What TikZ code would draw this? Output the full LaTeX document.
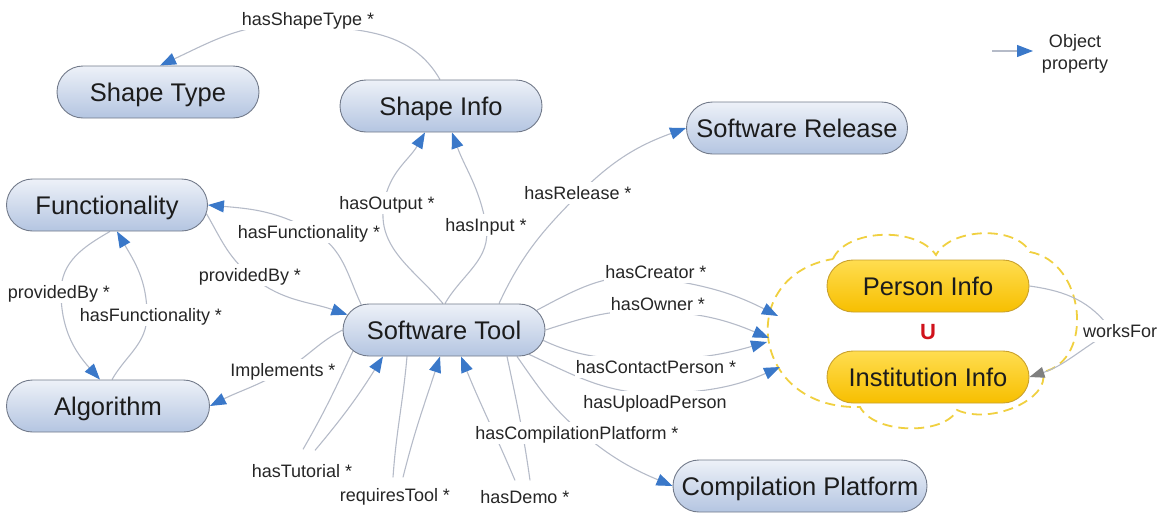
\documentclass[tikz,border=0pt]{standalone}
\usepackage{fontspec}
\setmainfont{Liberation Sans}
\usetikzlibrary{shapes.misc,arrows.meta,calc,backgrounds}

\definecolor{edgegray}{HTML}{B5BBC8}
\definecolor{tipblue}{HTML}{3A78C9}
\definecolor{tipgray}{HTML}{7F7F7F}
\definecolor{classtop}{HTML}{EDF1F8}
\definecolor{classbot}{HTML}{B4C5E1}
\definecolor{classline}{HTML}{727A8A}
\definecolor{goldtop}{HTML}{FFDD50}
\definecolor{goldbot}{HTML}{F7BF00}
\definecolor{goldline}{HTML}{C9A12C}
\definecolor{cloudline}{HTML}{F0D040}
\definecolor{unionred}{HTML}{D0121B}
\definecolor{txt}{HTML}{1C1C1C}
\definecolor{lbltxt}{HTML}{262626}

\tikzset{
  cls/.style={rounded rectangle, draw=classline, line width=0.9pt,
    top color=classtop, bottom color=classbot,
    minimum width=202pt, minimum height=52pt, inner sep=0pt,
    text height=23.8pt, text depth=5.5pt,
    font=\fontsize{25.5}{30}\selectfont, text=txt},
  gold/.style={cls, draw=goldline, top color=goldtop, bottom color=goldbot},
  lbl/.style={fill=white, inner sep=1pt, text height=16.9pt, text depth=4pt,
    font=\fontsize{18}{21}\selectfont, text=lbltxt},
  rel/.style={draw=edgegray, line width=1.1pt,
    -{Triangle[length=16pt,width=12pt,color=tipblue]}},
  relgray/.style={rel, -{Triangle[length=15pt,width=11pt,color=tipgray]}},
  cloudedge/.style={draw=cloudline, line width=1.8pt, dash pattern=on 10pt off 6pt},
}

\begin{document}
\begin{tikzpicture}[x=1pt,y=1pt]
\useasboundingbox (0,0) rectangle (1168,-512);

% classes
\node[cls] (stype) at (158,-92) {Shape Type};
\node[cls] (si) at (441,-106) {Shape Info};
\node[cls, minimum width=221pt] (srel) at (797,-128) {Software Release};
\node[cls, minimum width=201pt] (fn) at (107,-205) {Functionality};
\node[cls, minimum width=203pt] (alg) at (108,-406) {Algorithm};
\node[cls] (st) at (444,-330) {Software Tool};
\node[cls, minimum width=254pt] (cp) at (800,-486) {Compilation Platform};
\node[gold] (pinf) at (928,-286) {Person Info};
\node[gold] (inst) at (928,-377) {Institution Info};
\node[font=\fontsize{22}{22}\selectfont\bfseries, text=unionred] (un) at (928,-332) {U};

% property labels
\node[lbl] (lSType) at (308,-19) {hasShapeType *};
\node[lbl] (lOut) at (387,-203) {hasOutput *};
\node[lbl] (lIn) at (486,-225) {hasInput *};
\node[lbl] (lRel) at (578,-193) {hasRelease *};
\node[lbl] (lFnA) at (309,-232) {hasFunctionality *};
\node[lbl] (lPbA) at (250,-275) {providedBy *};
\node[lbl] (lPbB) at (59,-292) {providedBy *};
\node[lbl] (lFnB) at (151,-315) {hasFunctionality *};
\node[lbl] (lImp) at (283,-370) {Implements *};
\node[lbl] (lTut) at (302,-471) {hasTutorial *};
\node[lbl] (lReq) at (395,-495) {requiresTool *};
\node[lbl] (lDemo) at (525,-497) {hasDemo *};
\node[lbl] (lComp) at (577,-433) {hasCompilationPlatform *};
\node[lbl] (lCre) at (656,-272) {hasCreator *};
\node[lbl] (lOwn) at (658,-304) {hasOwner *};
\node[lbl] (lCon) at (656,-367) {hasContactPerson *};
\node[lbl] (lUpl) at (655,-402) {hasUploadPerson};
\node[lbl] (lWf) at (1120,-331) {worksFor};

% entry points on the union cloud
\coordinate (cA) at (778,-316);
\coordinate (cB) at (769,-338);
\coordinate (cC) at (767,-342);
\coordinate (cD) at (780,-367);

% legend
\coordinate (lgA) at (992,-51);
\coordinate (lgB) at (1033,-51);
\node[align=center, font=\fontsize{18}{22}\selectfont, text=lbltxt] (lgT) at (1075,-54) {Object\\property};

\begin{scope}[on background layer]
  % union of person and institution
  \draw[cloudedge] (833,-259)
    .. controls (845,-230) and (915,-225) .. (936,-255)
    .. controls (950,-228) and (1015,-225) .. (1030,-252)
    .. controls (1085,-262) and (1095,-360) .. (1043,-372)
    .. controls (1050,-400) and (990,-425) .. (957,-410)
    .. controls (945,-435) and (875,-435) .. (860,-407)
    .. controls (750,-410) and (735,-275) .. (833,-259);

  \draw[rel] (lgA) -- (lgB);

  \draw[rel] ($(si.north)+(-1,0)$) to[out=120,in=-5] ($(lSType.center)+(0,-6)$)
             to[out=175,in=25] ($(stype.north)+(2,0)$);
  \draw[rel] ($(st.north)+(-1,0)$) to[out=130,in=-100] ($(lOut.center)+(-3,0)$)
             to[out=80,in=-120] ($(si.south)+(-16,0)$);
  \draw[rel] ($(st.north)+(1,0)$) to[out=60,in=-80] (lIn.center)
             to[out=100,in=-70] ($(si.south)+(11,0)$);
  \draw[rel] ($(st.north)+(55,0)$) to[out=65,in=-135] ($(lRel.center)+(2,0)$)
             to[out=45,in=200] (srel.west);
  \draw[rel] (st.163) to[out=115,in=-30] ($(lFnA.center)+(5,0)$)
             to[out=150,in=-5] (fn.east);
  \draw[rel] (fn.-5) to[out=-60,in=140] (lPbA.center)
             to[out=-40,in=161] (st.171);
  \draw[rel] ($(fn.south)+(3,0)$) to[out=-150,in=90] ($(lPbB.center)+(2,0)$)
             to[out=-90,in=132] ($(alg.north)+(-8,0)$);
  \draw[rel] ($(alg.north)+(4,0)$) to[out=60,in=-90] ($(lFnB.center)+(-4,0)$)
             to[out=90,in=-60] ($(fn.south)+(10,0)$);
  \draw[rel] (st.west) to[out=207,in=30] ($(lImp.center)+(2,0)$)
             to[out=210,in=27] (alg.east);
  \draw[rel] (st.193) to[out=-115,in=60] ($(lTut.north)+(1,10)$)
             ($(lTut.north)+(13,9)$) to[out=50,in=-122] ($(st.south)+(-61,0)$);
  \draw[rel] ($(st.south)+(-37,0)$) to[out=-95,in=86] ($(lReq.north)+(-2,6)$)
             ($(lReq.north)+(8,6)$) to[out=76,in=-108] ($(st.south)+(-4,0)$);
  \draw[rel] ($(st.south)+(63,0)$) to[out=-78,in=98] ($(lDemo.north)+(5,5)$)
             ($(lDemo.north)+(-10,5)$) to[out=113,in=-68] ($(st.south)+(17,0)$);
  \draw[rel] ($(st.south)+(73,0)$) to[out=-55,in=140] ($(lComp.center)+(5,0)$)
             to[out=-40,in=157] (cp.west);
  \draw[rel] (st.12) to[out=28,in=172] ($(lCre.center)+(0,-6)$)
             to[out=-8,in=153] (cA);
  \draw[rel] (st.east) to[out=18,in=177] ($(lOwn.center)+(0,-7)$)
             to[out=-3,in=157] (cB);
  \draw[rel] (st.-6) to[out=-25,in=180] ($(lCon.center)+(0,8)$)
             to[out=0,in=196] (cC);
  \draw[rel] (st.-16) to[out=-25,in=178] ($(lUpl.center)+(0,8)$)
             to[out=2,in=204] (cD);
  \draw[relgray] (pinf.east) to[out=-8,in=125] ($(lWf.center)+(-8,0)$)
             to[out=-150,in=18] (inst.east);
\end{scope}
\end{tikzpicture}
\end{document}
